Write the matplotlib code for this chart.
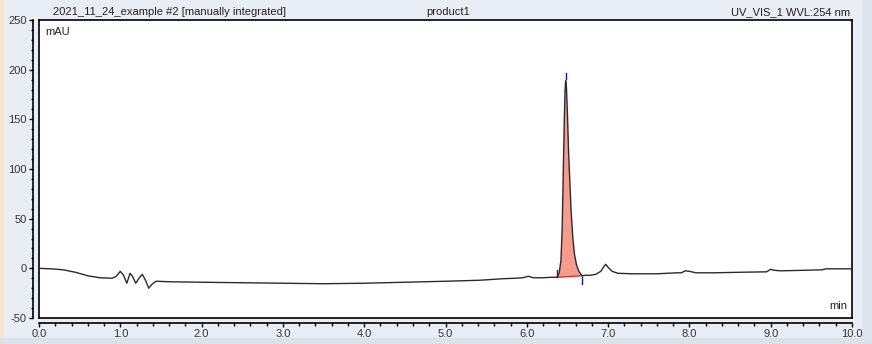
import numpy as np
import matplotlib.pyplot as plt
from matplotlib.patches import Rectangle

# chromatogram trace (min, mAU)
time = [0.00, 0.15, 0.30, 0.45, 0.60, 0.75, 0.90, 0.95, 1.00, 1.04, 1.08, 1.12,
        1.15, 1.19, 1.23, 1.27, 1.31, 1.35, 1.39, 1.44, 1.60, 2.00, 2.50, 3.00,
        3.50, 4.00, 4.50, 5.00, 5.42, 5.70, 5.85, 5.95, 6.02, 6.08, 6.20, 6.30,
        6.375, 6.40, 6.42, 6.435, 6.447, 6.46, 6.47, 6.478, 6.488, 6.50, 6.515,
        6.528, 6.545, 6.565, 6.585, 6.61, 6.64, 6.68, 6.72, 6.78, 6.85, 6.91,
        6.95, 6.97, 7.00, 7.05, 7.12, 7.30, 7.60, 7.85, 7.90, 7.95, 8.00, 8.08,
        8.30, 8.60, 8.95, 9.00, 9.05, 9.12, 9.40, 9.63, 9.68, 9.80, 10.00]
signal = [0.0, -0.5, -1.5, -4.0, -7.5, -9.5, -10.0, -8.0, -3.0, -7.0, -15.0, -5.0,
          -8.0, -15.0, -10.0, -6.0, -12.0, -20.0, -16.0, -13.0, -13.5, -14.0, -14.5, -15.0,
          -15.5, -15.0, -14.0, -13.0, -12.0, -10.5, -10.0, -9.5, -8.0, -9.5, -9.5, -9.0,
          -9.0, -4.0, 8.0, 40.0, 90.0, 145.0, 178.0, 189.0, 182.0, 155.0, 115.0,
          90.0, 58.0, 32.0, 15.0, 4.0, -3.0, -7.5, -7.0, -7.0, -6.0, -3.0,
          2.0, 4.0, 1.0, -3.0, -5.0, -5.5, -5.5, -4.5, -4.5, -2.5, -3.0, -4.5,
          -4.5, -4.0, -3.5, -1.0, -2.0, -2.5, -2.0, -1.5, -0.5, -0.5, -0.5]

# integrated peak: start, apex, end
peak_start = 6.375
peak_end = 6.68
peak_apex = 6.478

header_left = "2021_11_24_example #2 [manually integrated]"
header_mid = "product1"
header_right = "UV_VIS_1 WVL:254 nm"

plt.rcParams['font.family'] = ['Liberation Sans', 'DejaVu Sans']
plt.rcParams['axes.unicode_minus'] = False

fig = plt.figure(figsize=(8.72, 3.44), dpi=100)
fig.patch.set_facecolor('#e9eef6')

# window chrome strips
fig.patches.append(Rectangle((0, 0), 4/872, 1, transform=fig.transFigure,
                             facecolor='#f5e4c8', edgecolor='none', zorder=0))
fig.patches.append(Rectangle((862/872, 0), 10/872, 1, transform=fig.transFigure,
                             facecolor='#dfe4ec', edgecolor='none', zorder=0))
fig.patches.append(Rectangle((0, 0), 1, 6/344, transform=fig.transFigure,
                             facecolor='#dde2ea', edgecolor='none', zorder=0))

ax = fig.add_axes([39/872, 26/344, 813/872, 298/344])
ax.set_facecolor('white')

t = np.array(time)
s = np.array(signal)
ax.plot(t, s, color='#2b2b2b', lw=1.0, zorder=3)

# peak area
m = (t >= peak_start) & (t <= peak_end)
ax.fill(t[m], s[m], color='#f79b8f', lw=0, zorder=2)
ax.plot([t[m][0], t[m][-1]], [s[m][0], s[m][-1]], color='#e0302a', lw=1.0, zorder=2)

# peak delimiters
ax.plot([peak_start, peak_start], [-2, -9], color='#1a1a9a', lw=1.0, zorder=4)
ax.plot([peak_end, peak_end], [-9, -16], color='#1a1a9a', lw=1.0, zorder=4)
ax.plot([peak_apex, peak_apex], [191, 197], color='#1a1a9a', lw=1.0, zorder=4)

ax.set_xlim(0, 10)
ax.set_ylim(-50, 250)
ax.set_xticks(np.arange(0, 10.01, 1.0))
ax.set_xticklabels(['%.1f' % v for v in np.arange(0, 10.01, 1.0)])
ax.set_xticks(np.arange(0, 10.01, 0.2), minor=True)
ax.set_yticks(np.arange(-50, 251, 50))
ax.set_yticks(np.arange(-50, 251, 10), minor=True)

ax.spines['left'].set_position(('outward', 4.3))
ax.spines['bottom'].set_position(('outward', 3.6))
for sp in ax.spines.values():
    sp.set_linewidth(1.2)
    sp.set_color('black')
# box edges that the offset spines leave open
ax.plot([0, 0], [0, 1], transform=ax.transAxes, color='black', lw=1.2, clip_on=False)
ax.plot([0, 1], [0, 0], transform=ax.transAxes, color='black', lw=1.2, clip_on=False)

ax.tick_params(which='major', direction='out', length=3, width=1, labelsize=8,
               labelcolor='#333333', pad=1.5)
ax.tick_params(which='minor', direction='out', length=1.8, width=1)

ax.text(0.008, 0.975, 'mAU', transform=ax.transAxes, ha='left', va='top',
        fontsize=8, color='#222222')
ax.text(0.994, 0.025, 'min', transform=ax.transAxes, ha='right', va='bottom',
        fontsize=8, color='#222222')

fig.text(53/872, 332/344, header_left, ha='left', va='center', fontsize=8, color='#222222')
fig.text(448/872, 332/344, header_mid, ha='center', va='center', fontsize=8, color='#222222')
fig.text(850/872, 332/344, header_right, ha='right', va='center', fontsize=8, color='#222222')

fig.savefig('out.png', dpi=100, facecolor=fig.get_facecolor())
